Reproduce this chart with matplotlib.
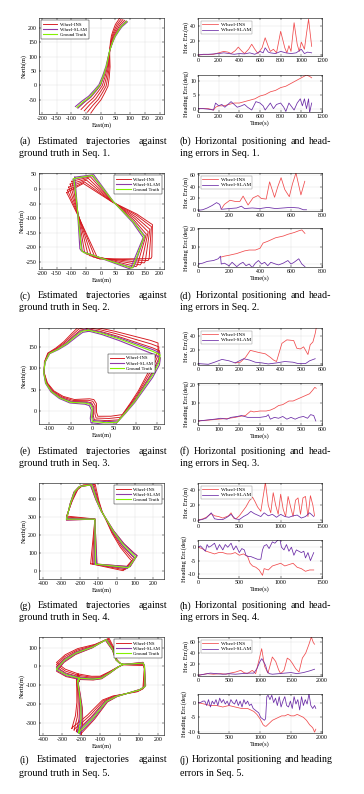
import numpy as np
import matplotlib.pyplot as plt

plt.rcParams['font.family'] = ['Liberation Serif', 'DejaVu Serif']
plt.rcParams['axes.unicode_minus'] = False

W, H = 364, 794

# ---------------- trajectories (East, North in m) ----------------
# Seq. 1
s1_gt_e = [-81, -60, -37, -18, -3, 8, 19, 26, 31, 40, 48, 60, 70, 88]
s1_gt_n = [-77, -58, -40, -18, 1, 30, 65, 100, 123, 150, 170, 190, 205, 222]
s1_pivot = (30, 120)
s1_ins_rot = [1, 4, 7, 10, 13]
s1_slam_rot = [-1.5, 1.0]

# Seq. 2
s2_gt_e = [-92, -28, 42, 110, 144, 148, 110, 105, -60, -66, -72, -81, -89, -92]
s2_gt_n = [36, 47, -43, -112, -158, -163, -267, -272, -217, -209, -146, -54, 15, 36]
s2_pivot = (40, -60)
s2_ins_rot = [4, 8, 12, 16, 19]
s2_slam_rot = [-2, 1]

# Seq. 3
s3_gt_e = [-10, 20, 60, 100, 140, 157, 155, 140, 120, 100, 80, 57, 30, 0, -2, 0, -5, -15, -50,
           -75, -95, -108, -113, -110, -100, -80, -60, -40, -25, -10]
s3_gt_n = [190, 183, 170, 155, 140, 132, 115, 85, 55, 25, 0, -27, -28, -25, -15, 5, 15, 18, 20,
           30, 45, 65, 90, 115, 135, 145, 158, 175, 187, 190]
s3_pivot = (-110, 100)
s3_ins_rot = [2, 4, 6]
s3_slam_rot = [-1.5, 1]

# Seq. 4
s4_gt_e = [-115, -118, -273, -250, -227, -200, -136, -109, -82, -55, -18, 36, 91, 105, 82, 65, -115]
s4_gt_n = [40, 290, 290, 380, 444, 472, 481, 398, 333, 287, 222, 148, 92, 80, 46, 20, 40]
s4_pivot = (-110, 290)
s4_ins_rot = [2, -2, -4, -6]
s4_slam_rot = [-1.5, 1.5]

# Seq. 5
s5_gt_e = [-219, -210, -281, -330, -289, -228, -140, -70, -35, -18, 0, 18, 70, 123, 130, 133, 105,
           -18, -70, -105, -140, -175, -210, -214, -202, -202, -210, -219, -210, -140, -96, -53, -9, 18]
s5_gt_n = [-80, -62, -44, -14, 32, 71, 103, 142, 88, 35, 18, 11, 14, 18, 0, -106, -124,
           -159, -186, -230, -274, -310, -345, -354, -283, -212, -142, -80, -62, -67, -62, -35, -4, 11]
s5_pivot = (0, 0)
s5_ins_rot = [2, -2, -4, -6]
s5_slam_rot = [-1, 1]

# ---------------- error time series ----------------
# Seq. 1
s1_hor_ins_t = [0, 50, 100, 150, 200, 250, 290, 320, 360, 390, 420, 450, 490, 520, 550, 580, 620, 650,
                680, 700, 730, 760, 800, 840, 860, 880, 900, 930, 960, 980, 1000, 1030, 1050, 1070, 1100]
s1_hor_ins = [0, 0.5, 0.5, 1, 3, 5, 4, 2, 6, 11, 6, 2, 8, 15, 8, 2, 10, 24,
              12, 5, 8, 3, 33, 10, 3, 13, 5, 45, 15, 5, 18, 8, 30, 50, 12]
s1_hor_slam_t = [0, 50, 100, 150, 200, 250, 300, 350, 400, 450, 500, 550, 600, 630, 650, 680, 700,
                 750, 800, 850, 900, 950, 1000, 1030, 1060, 1100]
s1_hor_slam = [0, 1, 1, 1.5, 2, 3, 2, 1, 2, 1.5, 3, 1, 5, 3, 10, 4, 3,
               2, 5, 3, 2, 3, 8, 2, 4, 3]
s1_head_ins_t = [0, 50, 100, 150, 170, 200, 250, 300, 350, 400, 450, 500, 550, 600, 650, 700, 750,
                 800, 850, 900, 950, 1000, 1050, 1080, 1100]
s1_head_ins = [0, 0, 0, -0.5, 0.5, 1, 1, 1.5, 2, 2, 2.5, 3, 3.5, 4.5, 5, 6, 6.5,
               7.5, 8, 9, 10, 11, 12, 11.5, 11]
s1_head_slam_t = [0, 50, 100, 150, 170, 200, 230, 260, 290, 320, 350, 380, 420, 450, 480, 520, 560,
                  600, 630, 650, 680, 700, 730, 760, 800, 830, 850, 880, 900, 930, 960, 990, 1010,
                  1030, 1050, 1070, 1080, 1100]
s1_head_slam = [0, 0, -0.2, -0.5, 2, 1, 1.5, 0.5, 1.5, 2.5, 1.5, 0.5, 1, 1.5, 0.5, -0.5, 2.5,
                2, 1, -0.5, 1, 2, 0, 1.5, 2, 0.5, -1, 2, 1, -0.5, 2, 3.5, 1,
                3.5, 0, 3.5, -1.5, 2]

# Seq. 2
s2_hor_ins_t = [150, 170, 206, 240, 270, 291, 323, 355, 387, 408, 440, 462, 494, 515, 536, 560, 589,
                610, 632, 664, 689]
s2_hor_ins = [2, 10, 17, 15, 15, 24, 9, 21, 25, 20, 19, 48, 22, 40, 55, 35, 23,
              45, 63, 26, 49]
s2_hor_slam_t = [0, 30, 60, 90, 120, 140, 150, 160, 200, 250, 280, 300, 350, 400, 450, 500, 550,
                 600, 650, 680, 700]
s2_hor_slam = [0, 1, 4, 8, 13, 10, 2, 2, 3, 4, 7, 3, 4, 3, 5, 3, 4,
               5, 4, 1, 1]
s2_head_ins_t = [150, 170, 200, 250, 300, 330, 370, 400, 420, 450, 500, 550, 580, 620, 650, 670, 690]
s2_head_ins = [4, 4.5, 5, 6, 7.5, 8, 8, 9, 12, 13, 15, 16, 17, 18, 19, 19.5, 17.5]
s2_head_slam_t = [0, 30, 60, 100, 130, 145, 150, 170, 200, 220, 250, 270, 290, 310, 330, 350, 370,
                  390, 410, 430, 450, 470, 500, 520, 550, 580, 600, 620, 650, 670, 690]
s2_head_slam = [0, 0.5, 1.5, 2, 3, 4.5, 0, 0.5, -1, 1, -1.5, 0, 1, -1, 0, -2, 0.5,
                2, 0, 1, -1, 1, 0, -0.5, 0.5, 2, 0, 1, 3, 0, -1.5]

# Seq. 3
s3_hor_ins_t = [180, 205, 230, 253, 293, 326, 350, 366, 380, 406, 430, 463, 478, 495, 511, 532, 543,
                556, 567, 572]
s3_hor_ins = [2, 3, 10, 20, 17, 15, 10, 6, 4, 30, 35, 34, 23, 22, 25, 14, 28,
              32, 44, 52]
s3_hor_slam_t = [0, 50, 80, 116, 150, 180, 221, 250, 277, 310, 340, 380, 420, 460, 485, 520, 540, 567]
s3_hor_slam = [1, 0, 3, 7, 5, 2, 8, 6, 3, 2, 0.5, 2, 4, 3, 1, 1, 5, 8]
s3_head_ins_t = [0, 50, 100, 150, 180, 200, 230, 255, 270, 300, 330, 350, 370, 390, 410, 440, 460,
                 480, 500, 520, 540, 555, 565, 572]
s3_head_ins = [0, 0.5, 1, 1.5, 2, 2.5, 3, 5.5, 5, 5.5, 5.5, 6, 7, 8.5, 9, 11, 11,
               12, 13, 14, 15, 17, 18.5, 18]
s3_head_slam_t = [0, 40, 80, 110, 140, 160, 190, 210, 240, 270, 300, 330, 340, 350, 370, 390, 410,
                  430, 450, 470, 490, 510, 530, 545, 560, 570]
s3_head_slam = [0, 0.5, 1, 1.5, 1, 2, 2.5, 3, 2, 2, 2, 2.5, 3.5, 1, 2, 1.5, 2.5,
                1, 2, 1, 2, 2.5, 1.5, 3.5, 3, 0]

# Seq. 4
s4_hor_ins_t = [0, 60, 100, 160, 200, 250, 300, 370, 400, 430, 460, 500, 540, 580, 620, 660, 690,
                720, 760, 800, 815, 850, 880, 910, 940, 970, 1000, 1030, 1060, 1090, 1120, 1150,
                1180, 1210, 1240, 1270, 1300, 1330, 1360, 1390, 1410]
s4_hor_ins = [0, 2, 4, 9, 6, 5, 3, 6, 10, 3, 2, 6, 12, 18, 26, 31, 25,
              18, 12, 40, 51, 20, 10, 37, 20, 8, 35, 15, 5, 32, 18, 5,
              27, 30, 8, 30, 32, 5, 33, 20, 6]
s4_hor_slam_t = [0, 50, 100, 160, 200, 250, 300, 350, 400, 450, 500, 550, 600, 640, 680, 720, 760,
                 800, 850, 900, 950, 1000, 1050, 1100, 1150, 1200, 1250, 1300, 1350, 1400]
s4_hor_slam = [0, 1, 3, 10, 2, 1, 1, 4, 8, 2, 1, 5, 8, 12, 9, 7, 5,
               10, 6, 8, 4, 8, 5, 4, 6, 7, 3, 5, 10, 5]
s4_head_ins_t = [0, 50, 100, 150, 200, 250, 300, 350, 400, 450, 500, 550, 600, 630, 660, 700, 740,
                 780, 800, 850, 900, 950, 1000, 1050, 1100, 1150, 1200, 1250, 1300, 1350, 1400]
s4_head_ins = [0, -0.5, -1.5, -2, -2.5, -2, -2, -2.5, -2.5, -2, -3, -2.5, -3.5, -6, -7, -7.5, -8.5,
               -10.5, -8, -8.5, -7, -6.5, -6, -7, -6.5, -6, -7.5, -8, -9, -8.5, -8.5]
s4_head_slam_t = [0, 30, 60, 90, 110, 130, 160, 200, 230, 260, 300, 330, 360, 400, 430, 460, 500,
                  530, 560, 580, 610, 640, 680, 720, 760, 780, 800, 830, 860, 900, 930, 960, 990,
                  1010, 1040, 1070, 1100, 1130, 1160, 1190, 1220, 1250, 1280, 1300, 1330, 1360, 1400]
s4_head_slam = [0, 0.5, -0.5, -1.5, 1, 0, 0.5, 1.5, -1, 1, -1, 1, 0, 1.5, -1, 0.5, -2,
                -0.5, -1, -3, -3.5, -3.5, -4, -4.5, -4.5, -1, 0.5, 1, -0.5, 2, 1.5, 2.5, 3,
                0, -1, 1, -1.5, 0, -3, -1, -1.5, -2, -1.5, -4, -2, -5, -2]

# Seq. 5
s5_hor_ins_t = [0, 150, 250, 365, 450, 520, 608, 690, 740, 796, 876, 930, 985, 1027, 1075, 1129,
                1199, 1253, 1300, 1333, 1387, 1440, 1480, 1520, 1575, 1629, 1683, 1737, 1790,
                1828, 1860, 1880]
s5_hor_ins = [0, 3, 2, 3, 2, 4, 6, 9, 5, 3, 9, 3, 28, 48, 16, 4,
              33, 25, 10, 3, 9, 31, 28, 22, 12, 6, 31, 40, 56,
              69, 59, 56]
s5_hor_slam_t = [0, 150, 200, 300, 400, 500, 600, 700, 800, 900, 950, 1000, 1030, 1060, 1090, 1120,
                 1150, 1200, 1300, 1400, 1500, 1600, 1700, 1800, 1880]
s5_hor_slam = [0, 3, 4, 3, 2, 3, 2, 3, 4, 4, 12, 25, 30, 24, 18, 6,
               3, 2, 3, 4, 5, 3, 5, 8, 11]
s5_head_ins_t = [0, 100, 200, 300, 400, 500, 600, 700, 800, 850, 900, 950, 1000, 1050, 1080, 1100,
                 1150, 1200, 1250, 1300, 1350, 1400, 1450, 1500, 1550, 1600, 1650, 1700, 1750,
                 1800, 1850, 1880, 1900]
s5_head_ins = [0, -0.5, -1, -1, -1.5, -1, -1.5, -2, -2, -2.5, -3, -4, -5.5, -7.5, -8, -8,
               -7, -6, -5.5, -5, -4.5, -4.5, -4, -4.5, -4.5, -4, -4.5, -5, -6,
               -7.5, -8.5, -10, -9]
s5_head_slam_t = [0, 40, 80, 110, 140, 170, 200, 230, 260, 290, 320, 350, 380, 410, 440, 470, 500,
                  530, 560, 590, 620, 650, 680, 710, 740, 770, 800, 830, 860, 890, 920, 950, 980,
                  1010, 1040, 1070, 1090, 1110, 1130, 1160, 1190, 1220, 1250, 1280, 1310, 1340,
                  1370, 1400, 1430, 1460, 1490, 1520, 1550, 1580, 1610, 1640, 1670, 1700, 1730,
                  1760, 1790, 1820, 1850, 1880, 1900]
s5_head_slam = [0, 0, 0.5, 0.5, -1, 1, -1.5, 0.5, -0.5, 1, -1, 1.5, 0, 1, -0.5, 0.5, -1,
                1, 0, -0.5, 1, -1, 0.5, -1.5, 1, -0.5, 0.5, -1, -0.5, -2, -2.5, -3, -3.5,
                -5, -5.5, -6, -5.5, 2, 2.5, 1, 2.5, 0, 1.5, -1, 2, -1.5,
                0.5, 2, -1, -1.5, 0.5, -2, 2, -0.5, 1, -2.5, 2, -1, 1,
                -0.5, 3, -1, -2, -1, -2]

RED_T, PUR_T, GRN = '#d4161c', '#8e3ba6', '#84f000'
RED_E, PUR_E = '#f04a4c', '#6a2aa6'
GRID = '#e3e3e3'
CAP = 7.2


def px_axes(x0, y0, x1, y1):
    return fig.add_axes([x0 / W, 1 - y1 / H, (x1 - x0) / W, (y1 - y0) / H])


def style(ax):
    ax.grid(True, color=GRID, lw=0.35)
    ax.set_axisbelow(True)
    ax.tick_params(direction='in', labelsize=4.2, length=1.5, width=0.3, pad=1.5,
                   top=True, right=True)
    for s in ax.spines.values():
        s.set_linewidth(0.4)


def rotate(e, n, deg, pivot):
    t = np.deg2rad(deg)
    de = np.asarray(e, float) - pivot[0]
    dn = np.asarray(n, float) - pivot[1]
    return pivot[0] + de * np.cos(t) - dn * np.sin(t), pivot[1] + de * np.sin(t) + dn * np.cos(t)


def traj_plot(box, gt_e, gt_n, pivot, ins_rot, slam_rot, xlim, ylim, xt, yt, loc, anchor):
    ax = px_axes(*box)
    for k, a in enumerate(ins_rot):
        e, n = rotate(gt_e, gt_n, a, pivot)
        ax.plot(e, n, color=RED_T, lw=0.65, label='Wheel-INS' if k == 0 else None)
    for k, a in enumerate(slam_rot):
        e, n = rotate(gt_e, gt_n, a, pivot)
        ax.plot(e, n, color=PUR_T, lw=0.8, label='Wheel-SLAM' if k == 0 else None)
    ax.plot(gt_e, gt_n, color=GRN, lw=0.8, label='Ground Truth')
    ax.set_xlim(*xlim)
    ax.set_ylim(*ylim)
    ax.set_xticks(xt)
    ax.set_yticks(yt)
    style(ax)
    ax.set_xlabel('East(m)', fontsize=4.6, labelpad=1)
    ax.set_ylabel('North(m)', fontsize=4.6, labelpad=1)
    kw = dict(loc=loc, fontsize=3.4, handlelength=3, handletextpad=0.5,
              borderpad=0.4, labelspacing=0.2, fancybox=False, framealpha=1)
    if anchor is not None:
        kw.update(bbox_to_anchor=anchor, borderaxespad=0)
    leg = ax.legend(**kw)
    leg.get_frame().set_linewidth(0.3)
    leg.get_frame().set_edgecolor('black')
    return ax


def err_plot(box, t_ins, v_ins, t_slam, v_slam, xlim, ylim, xt, yt, ylabel, legend):
    ax = px_axes(*box)
    ax.plot(t_ins, v_ins, color=RED_E, lw=0.55, label='Wheel-INS')
    ax.plot(t_slam, v_slam, color=PUR_E, lw=0.55, label='Wheel-SLAM')
    ax.set_xlim(*xlim)
    ax.set_ylim(*ylim)
    ax.set_xticks(xt)
    ax.set_yticks(yt)
    style(ax)
    ax.set_ylabel(ylabel, fontsize=4.6, labelpad=1)
    if legend:
        leg = ax.legend(loc='upper left', fontsize=3.8, handlelength=3, handletextpad=0.5,
                        borderpad=0.3, labelspacing=0.15, fancybox=False, framealpha=1)
        leg.get_frame().set_linewidth(0.3)
        leg.get_frame().set_edgecolor('#888888')
    return ax


def caption(x0, x1, y, text, justify):
    yy = 1 - y / H
    if not justify:
        fig.text(x0 / W, yy, text, fontsize=CAP, va='center', ha='left')
        return
    words = text.split()
    r = fig.canvas.get_renderer()
    ts = [fig.text(0, yy, w, fontsize=CAP, va='center', ha='left') for w in words]
    widths = [t.get_window_extent(r).width for t in ts]
    gap = max((x1 - x0 - sum(widths)) / (len(words) - 1), 2.2)
    x = x0
    for t, w in zip(ts, widths):
        t.set_position((x / W, yy))
        x += w + gap


fig = plt.figure(figsize=(W / 100, H / 100), dpi=100)

rows = [
    dict(top=18, lbot=114, ebox=(18, 56, 75, 112), cap=(141, 154), n='1',
         gt=(s1_gt_e, s1_gt_n), piv=s1_pivot, ir=s1_ins_rot, sr=s1_slam_rot,
         xlim=(-210, 215), ylim=(-100, 234), xt=range(-200, 201, 50), yt=range(-50, 201, 50),
         loc='upper left', anchor=None,
         hor=(s1_hor_ins_t, s1_hor_ins, s1_hor_slam_t, s1_hor_slam),
         head=(s1_head_ins_t, s1_head_ins, s1_head_slam_t, s1_head_slam),
         txl=(0, 1200), txt=range(0, 1201, 200), hyl=(-1.4, 51.6), hyt=[0, 20, 40],
         dyl=(-1.2, 12), dyt=[0, 5, 10]),
    dict(top=173, lbot=269, ebox=(173, 211, 228, 267), cap=(296, 308), n='2',
         gt=(s2_gt_e, s2_gt_n), piv=s2_pivot, ir=s2_ins_rot, sr=s2_slam_rot,
         xlim=(-210, 215), ylim=(-275, 55), xt=range(-200, 201, 50), yt=range(-250, 51, 50),
         loc='upper right', anchor=None,
         hor=(s2_hor_ins_t, s2_hor_ins, s2_hor_slam_t, s2_hor_slam),
         head=(s2_head_ins_t, s2_head_ins, s2_head_slam_t, s2_head_slam),
         txl=(0, 800), txt=range(0, 801, 200), hyl=(-1.1, 62.9), hyt=[0, 20, 40, 60],
         dyl=(-1.7, 20.6), dyt=[0, 10, 20]),
    dict(top=328, lbot=424, ebox=(328, 365, 383, 425), cap=(451, 463), n='3',
         gt=(s3_gt_e, s3_gt_n), piv=s3_pivot, ir=s3_ins_rot, sr=s3_slam_rot,
         xlim=(-124, 166), ylim=(-31, 195), xt=range(-100, 151, 50), yt=range(0, 151, 50),
         loc='center right', anchor=(0.93, 0.63),
         hor=(s3_hor_ins_t, s3_hor_ins, s3_hor_slam_t, s3_hor_slam),
         head=(s3_head_ins_t, s3_head_ins, s3_head_slam_t, s3_head_slam),
         txl=(0, 600), txt=range(0, 601, 100), hyl=(-1, 52), hyt=[0, 20, 40],
         dyl=(-2.2, 20.9), dyt=[0, 10, 20]),
    dict(top=483, lbot=579, ebox=(483, 522, 540, 578), cap=(606, 617), n='4',
         gt=(s4_gt_e, s4_gt_n), piv=s4_pivot, ir=s4_ins_rot, sr=s4_slam_rot,
         xlim=(-422, 258), ylim=(-43, 491), xt=range(-400, 201, 100), yt=range(0, 401, 100),
         loc='upper right', anchor=None,
         hor=(s4_hor_ins_t, s4_hor_ins, s4_hor_slam_t, s4_hor_slam),
         head=(s4_head_ins_t, s4_head_ins, s4_head_slam_t, s4_head_slam),
         txl=(0, 1500), txt=range(0, 1501, 500), hyl=(-2.3, 50), hyt=[0, 20, 40],
         dyl=(-11.5, 2.7), dyt=[-10, -5, 0]),
    dict(top=637, lbot=735, ebox=(637, 676, 694, 733), cap=(760, 773), n='5',
         gt=(s5_gt_e, s5_gt_n), piv=s5_pivot, ir=s5_ins_rot, sr=s5_slam_rot,
         xlim=(-421, 232), ylim=(-363, 156), xt=range(-400, 201, 100), yt=range(-300, 101, 100),
         loc='upper right', anchor=None,
         hor=(s5_hor_ins_t, s5_hor_ins, s5_hor_slam_t, s5_hor_slam),
         head=(s5_head_ins_t, s5_head_ins, s5_head_slam_t, s5_head_slam),
         txl=(0, 2000), txt=range(0, 2001, 500), hyl=(-1.2, 69), hyt=[0, 20, 40, 60],
         dyl=(-10.3, 2.9), dyt=[-10, -5, 0]),
]

letters = 'abcdefghij'
for i, r in enumerate(rows):
    traj_plot((39, r['top'], 164, r['lbot']), r['gt'][0], r['gt'][1], r['piv'], r['ir'], r['sr'],
              r['xlim'], r['ylim'], r['xt'], r['yt'], r['loc'], r['anchor'])
    y0, y1, y2, y3 = r['ebox']
    err_plot((198, y0, 322, y1), *r['hor'], r['txl'], r['hyl'], r['txt'], r['hyt'], 'Hor. Err.(m)', True)
    ax = err_plot((198, y2, 322, y3), *r['head'], r['txl'], r['dyl'], r['txt'], r['dyt'],
                  'Heading Err.(deg)', False)
    ax.set_xlabel('Time(s)', fontsize=4.6, labelpad=1)

    c1, c2 = r['cap']
    la, lb = letters[2 * i], letters[2 * i + 1]
    caption(19, 167, c1, f'({la}) Estimated trajectories against', True)
    caption(19, 167, c2, f'ground truth in Seq. {r["n"]}.', False)
    if r['n'] == '5':
        caption(180, 331, c1, f'({lb}) Horizontal positioning and heading', True)
        caption(180, 331, c2, f'errors in Seq. {r["n"]}.', False)
    else:
        caption(180, 331, c1, f'({lb}) Horizontal positioning and head-', True)
        caption(180, 331, c2, f'ing errors in Seq. {r["n"]}.', False)

fig.savefig('out.png', dpi=100)
